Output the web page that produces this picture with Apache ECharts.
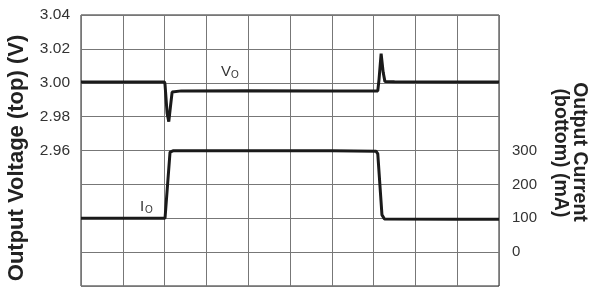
<!DOCTYPE html>
<html>
<head>
<meta charset="utf-8">
<script src="https://cdn.jsdelivr.net/npm/echarts@6/dist/echarts.min.js"></script>
<style>
  html, body { margin: 0; padding: 0; background: #fff; }
  #main { width: 592px; height: 288px; }
</style>
</head>
<body>
<div id="main"></div>
<script>
// time in scope divisions (10 across)
var voltTime = [0, 1.0, 2.0, 2.01, 2.06, 2.1, 2.14, 2.18, 2.4, 4.0, 6.0, 7.1, 7.13, 7.18, 7.23, 7.27, 7.5, 9.0, 10];
var voltValues = [3.0005, 3.0004, 3.0005, 2.999, 2.982, 2.977, 2.986, 2.9945, 2.9952, 2.9953, 2.9951, 2.9952, 3.002, 3.0172, 3.006, 3.0008, 3.0006, 3.0005, 3.0004];

var currTime = [0, 1.0, 2.01, 2.13, 2.2, 4.0, 6.0, 7.06, 7.1, 7.2, 7.26, 9.0, 10];
var currValues = [100, 100, 100, 295, 299, 299, 299, 298, 290, 110, 98, 97, 97];

var voltTicks = [2.96, 2.98, 3.00, 3.02, 3.04];
var currTicks = [0, 100, 200, 300];

function pairs(t, v) {
  var out = [];
  for (var i = 0; i < t.length; i++) out.push([t[i], v[i]]);
  return out;
}

var myChart = echarts.init(document.getElementById('main'));
var font = 'Liberation Sans, Arial, sans-serif';
var nameStyle = { fontFamily: font, fontWeight: 'bold', fill: '#222', align: 'center', verticalAlign: 'middle' };

var option = {
  animation: false,
  grid: {
    left: 81, right: 93, top: 15, bottom: 2,
    outerBoundsMode: 'none',
    containLabel: false,
    show: true, borderColor: '#222', borderWidth: 1
  },
  xAxis: {
    type: 'value', min: 0, max: 10, interval: 1,
    axisLine: { show: false },
    axisTick: { show: false },
    axisLabel: { show: false },
    splitLine: { show: true, lineStyle: { color: '#777', width: 1 } }
  },
  yAxis: [{
    type: 'value', min: 2.88, max: 3.04, interval: 0.02,
    position: 'left',
    axisLine: { show: false },
    axisTick: { show: false },
    axisLabel: {
      margin: 11, fontFamily: font, fontSize: 15.5, color: '#333',
      formatter: function (v) {
        var r = Math.round(v * 100) / 100;
        return voltTicks.indexOf(r) >= 0 ? r.toFixed(2) : '';
      }
    },
    splitLine: { show: true, lineStyle: { color: '#777', width: 1 } }
  }, {
    type: 'value', min: -100, max: 700, interval: 100,
    position: 'right',
    axisLine: { show: false },
    axisTick: { show: false },
    axisLabel: {
      margin: 13, fontFamily: font, fontSize: 15, color: '#333',
      formatter: function (v) {
        return currTicks.indexOf(v) >= 0 ? String(v) : '';
      }
    },
    splitLine: { show: false }
  }],
  series: [{
    name: 'VO', type: 'line', yAxisIndex: 0,
    data: pairs(voltTime, voltValues),
    symbol: 'none',
    lineStyle: { color: '#1a1a1a', width: 3 }
  }, {
    name: 'IO', type: 'line', yAxisIndex: 1,
    data: pairs(currTime, currValues),
    symbol: 'none',
    lineStyle: { color: '#1a1a1a', width: 3 }
  }],
  graphic: [
    // axis titles
    { type: 'text', x: 17, y: 158, rotation: Math.PI / 2,
      style: Object.assign({ text: 'Output Voltage (top) (V)', fontSize: 22 }, nameStyle) },
    { type: 'text', x: 579, y: 152, rotation: -Math.PI / 2,
      style: Object.assign({ text: 'Output Current', fontSize: 19.5 }, nameStyle) },
    { type: 'text', x: 560, y: 153, rotation: -Math.PI / 2,
      style: Object.assign({ text: '(bottom) (mA)', fontSize: 19.5 }, nameStyle) },
    // trace labels
    { type: 'text', left: 221, top: 64, style: { text: 'V', fontFamily: font, fontSize: 15, fill: '#333' } },
    { type: 'text', left: 231, top: 70, style: { text: 'O', fontFamily: font, fontSize: 10, fill: '#333' } },
    { type: 'text', left: 140, top: 199, style: { text: 'I', fontFamily: font, fontSize: 15, fill: '#333' } },
    { type: 'text', left: 145, top: 205, style: { text: 'O', fontFamily: font, fontSize: 10, fill: '#333' } }
  ]
};

myChart.setOption(option);
</script>
</body>
</html>
